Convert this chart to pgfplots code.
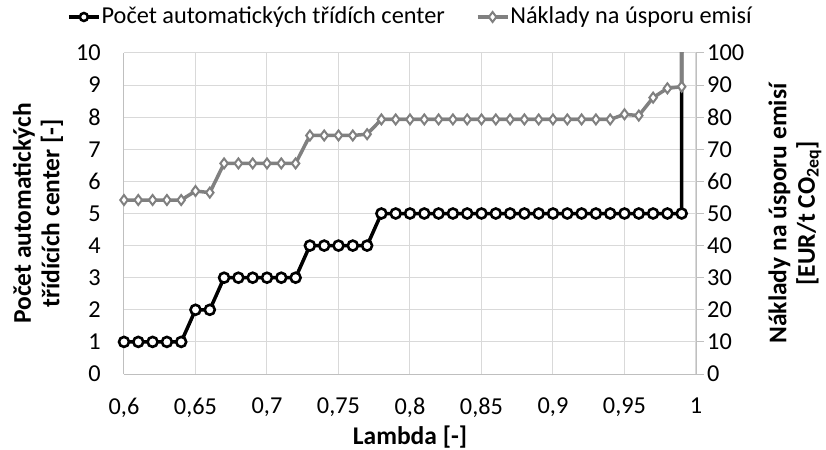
\documentclass[border=0pt]{standalone}
\usepackage{pgfplots}
\pgfplotsset{compat=1.18}
\usepackage{fontspec}
\setmainfont{Carlito}
\definecolor{gridc}{RGB}{217,217,217}
\definecolor{axisc}{RGB}{191,191,191}
\definecolor{costc}{RGB}{128,128,128}

% lambda vs. number of centres (left) and abatement cost (right)
\pgfplotstableread{
lambda centres
0.60 1
0.61 1
0.62 1
0.63 1
0.64 1
0.65 2
0.66 2
0.67 3
0.68 3
0.69 3
0.70 3
0.71 3
0.72 3
0.73 4
0.74 4
0.75 4
0.76 4
0.77 4
0.78 5
0.79 5
0.80 5
0.81 5
0.82 5
0.83 5
0.84 5
0.85 5
0.86 5
0.87 5
0.88 5
0.89 5
0.90 5
0.91 5
0.92 5
0.93 5
0.94 5
0.95 5
0.96 5
0.97 5
0.98 5
0.99 5
0.9901 30
}\centres
\pgfplotstableread{
lambda cost
0.60 54.2
0.61 54.2
0.62 54.2
0.63 54.2
0.64 54.2
0.65 57.0
0.66 56.5
0.67 65.6
0.68 65.6
0.69 65.6
0.70 65.6
0.71 65.6
0.72 65.6
0.73 74.3
0.74 74.3
0.75 74.3
0.76 74.3
0.77 74.7
0.78 79.3
0.79 79.3
0.80 79.3
0.81 79.3
0.82 79.3
0.83 79.3
0.84 79.3
0.85 79.3
0.86 79.3
0.87 79.3
0.88 79.3
0.89 79.3
0.90 79.3
0.91 79.3
0.92 79.3
0.93 79.3
0.94 79.3
0.95 80.9
0.96 80.5
0.97 86.1
0.98 89.0
0.99 89.5
0.9901 300
}\cost

\newcommand\tickfont{\fontsize{24.3bp}{28bp}\selectfont}
\newcommand\labfont{\fontsize{25.5bp}{28.5bp}\selectfont\bfseries}

\begin{document}
\tickfont
\begin{tikzpicture}
\path[use as bounding box] (-124bp,-76bp) rectangle (702bp,374bp);
\pgfplotsset{
  base/.style={scale only axis,width=572bp,height=321bp,
    at={(0,0)},anchor=south west,
    xmin=0.6,xmax=1,
    /pgf/number format/assume math mode=true,
    /pgf/number format/use comma,
    tick label style={font=\tickfont,inner sep=0pt},
    axis line style={axisc,line width=1bp}}
}
\begin{axis}[base,
  ymin=0,ymax=10,ytick={0,1,...,10},
  xtick={0.6,0.65,0.7,0.75,0.8,0.85,0.9,0.95,1},
  xticklabels={{0,6},{0,65},{0,7},{0,75},{0,8},{0,85},{0,9},{0,95},{1}},
  xticklabel style={anchor=north,yshift=-24bp},
  yticklabel style={anchor=east,xshift=-23bp},
  axis y line*=left,axis x line*=bottom,
  major tick length=0pt,
  grid=major,major grid style={gridc,line width=1bp},
  xlabel={Lambda [-]},
  ylabel={Počet automatických\\třídících center [-]},
  every axis x label/.style={at={(axis description cs:0.5,0)},anchor=center,
    yshift=-63bp,font=\labfont},
  every axis y label/.style={at={(axis description cs:0,0.5)},xshift=-86bp,
    rotate=90,anchor=center,font=\labfont,align=center},
]
\addplot[black,line width=3.5bp,mark=*,mark size=5bp,
  mark options={fill=white,draw=black,line width=2.6bp}] table[x=lambda,y=centres] {\centres};
\end{axis}
\begin{axis}[base,
  ymin=0,ymax=100,ytick={0,10,...,100},
  axis x line=none,axis y line*=right,
  tick align=outside,major tick length=8bp,
  ytick style={axisc,line width=1bp},
  yticklabel style={anchor=west,xshift=3bp},
  ylabel={Náklady na úsporu emisí\\{}[EUR/t CO\textsubscript{2eq}]},
  every axis y label/.style={at={(axis description cs:1,0.5)},xshift=99bp,
    rotate=90,anchor=center,font=\labfont,align=center},
  legend columns=2,
  legend style={at={(0.5,1)},anchor=center,yshift=36bp,draw=none,fill=none,
    font=\tickfont,
    /tikz/every even column/.append style={column sep=30bp},
    nodes={inner sep=1bp}},
  legend image code/.code={\draw[mark repeat=2,mark phase=2,#1]
    plot coordinates {(0bp,0bp) (15bp,0bp) (30bp,0bp)};},
]
\addlegendimage{black,line width=3.5bp,mark=*,mark size=4bp,
  mark options={fill=white,draw=black,line width=2.5bp}}
\addlegendentry{Počet automatických třídích center}
\addplot[costc,line width=3.5bp,mark=diamond*,mark size=5bp,
  mark options={fill=white,draw=costc,line width=2bp}] table[x=lambda,y=cost] {\cost};
\addlegendentry{Náklady na úsporu emisí}
\end{axis}
\end{tikzpicture}
\end{document}
